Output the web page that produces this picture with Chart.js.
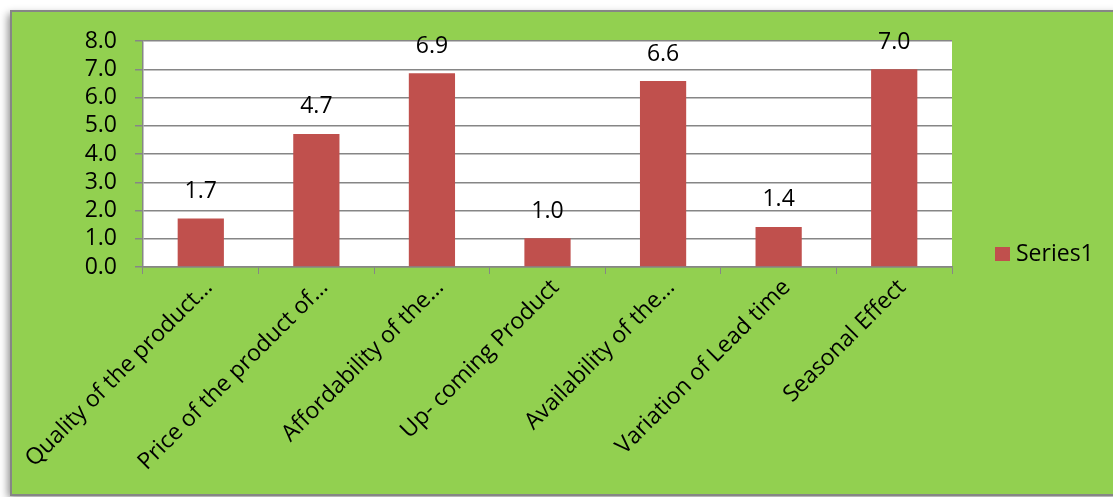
<!DOCTYPE html>
<html>
<head>
<meta charset="utf-8">
<script src="https://cdn.jsdelivr.net/npm/chart.js@4"></script>
<style>
  html, body { margin: 0; padding: 0; background: #ffffff; }
  #wrap { width: 1113px; height: 497px; }
</style>
</head>
<body>
<div id="wrap"><canvas id="myChart" width="1113" height="497"></canvas></div>
<script>
// Category labels (as shown, truncated like the original)
const categories = [
  "Quality of the product…",
  "Price of the product of…",
  "Affordability of the…",
  "Up- coming Product",
  "Availability of the…",
  "Variation of Lead time",
  "Seasonal Effect"
];

// Series values
const series1 = [1.72, 4.71, 6.86, 1.02, 6.58, 1.42, 7.0];
const seriesName = "Series1";

const FONT = "'Open Sans', sans-serif";
const FS = 23;
const GREEN = '#92D050';
const BAR = '#C0504D';
const GRID = '#868686';

// Green frame, shadow and white plot area
const frame = {
  id: 'frame',
  beforeDraw(chart) {
    const ctx = chart.ctx;
    const a = chart.chartArea;
    ctx.save();
    ctx.shadowColor = 'rgba(0,0,0,0.45)';
    ctx.shadowBlur = 8;
    ctx.shadowOffsetX = -3;
    ctx.shadowOffsetY = 3;
    ctx.fillStyle = GREEN;
    ctx.fillRect(11, 11, 1110, 484);
    ctx.restore();
    ctx.save();
    ctx.strokeStyle = GRID;
    ctx.lineWidth = 2;
    ctx.strokeRect(11, 11, 1110, 484);
    ctx.fillStyle = '#ffffff';
    ctx.fillRect(a.left, a.top, a.right - a.left, a.bottom - a.top);
    ctx.restore();
  }
};

// Value labels above the bars
const valueLabels = {
  id: 'valueLabels',
  afterDatasetsDraw(chart) {
    const ctx = chart.ctx;
    const meta = chart.getDatasetMeta(0);
    ctx.save();
    ctx.font = FS + 'px ' + FONT;
    ctx.fillStyle = '#000000';
    ctx.textAlign = 'center';
    ctx.textBaseline = 'middle';
    meta.data.forEach((bar, i) => {
      ctx.fillText(series1[i].toFixed(1), bar.x, bar.y - 27);
    });
    ctx.restore();
  }
};

// Legend on the right, like the original
const sideLegend = {
  id: 'sideLegend',
  afterDraw(chart) {
    const ctx = chart.ctx;
    ctx.save();
    ctx.fillStyle = BAR;
    ctx.fillRect(995, 247, 15, 14);
    ctx.font = FS + 'px ' + FONT;
    ctx.fillStyle = '#000000';
    ctx.textAlign = 'left';
    ctx.textBaseline = 'middle';
    ctx.fillText(chart.data.datasets[0].label, 1016, 254);
    ctx.restore();
  }
};

const config = {
  type: 'bar',
  data: {
    labels: categories,
    datasets: [{
      label: seriesName,
      data: series1,
      backgroundColor: BAR,
      barPercentage: 0.4,
      categoryPercentage: 1.0
    }]
  },
  options: {
    responsive: false,
    animation: false,
    layout: { padding: { left: 0, top: 41, right: 161, bottom: 0 } },
    plugins: {
      legend: { display: false },
      tooltip: { enabled: false }
    },
    scales: {
      x: {
        afterFit: (axis) => { axis.height = 230; },
        grid: {
          offset: true,
          drawOnChartArea: false,
          color: GRID,
          tickLength: 7,
          tickColor: GRID
        },
        border: { color: GRID, width: 1.5 },
        ticks: {
          autoSkip: false,
          maxRotation: 45,
          minRotation: 45,
          color: '#000000',
          padding: 0,
          labelOffset: 8,
          font: { family: FONT, size: FS }
        }
      },
      y: {
        min: 0,
        max: 8,
        afterFit: (axis) => { axis.width = 143; },
        grid: {
          color: GRID,
          lineWidth: 1.5,
          tickLength: 8,
          tickColor: GRID
        },
        border: { color: GRID, width: 1.5 },
        ticks: {
          stepSize: 1,
          autoSkip: false,
          color: '#000000',
          padding: 18,
          font: { family: FONT, size: FS },
          callback: (v) => Number(v).toFixed(1)
        }
      }
    }
  },
  plugins: [frame, valueLabels, sideLegend]
};

new Chart(document.getElementById('myChart').getContext('2d'), config);
</script>
</body>
</html>
